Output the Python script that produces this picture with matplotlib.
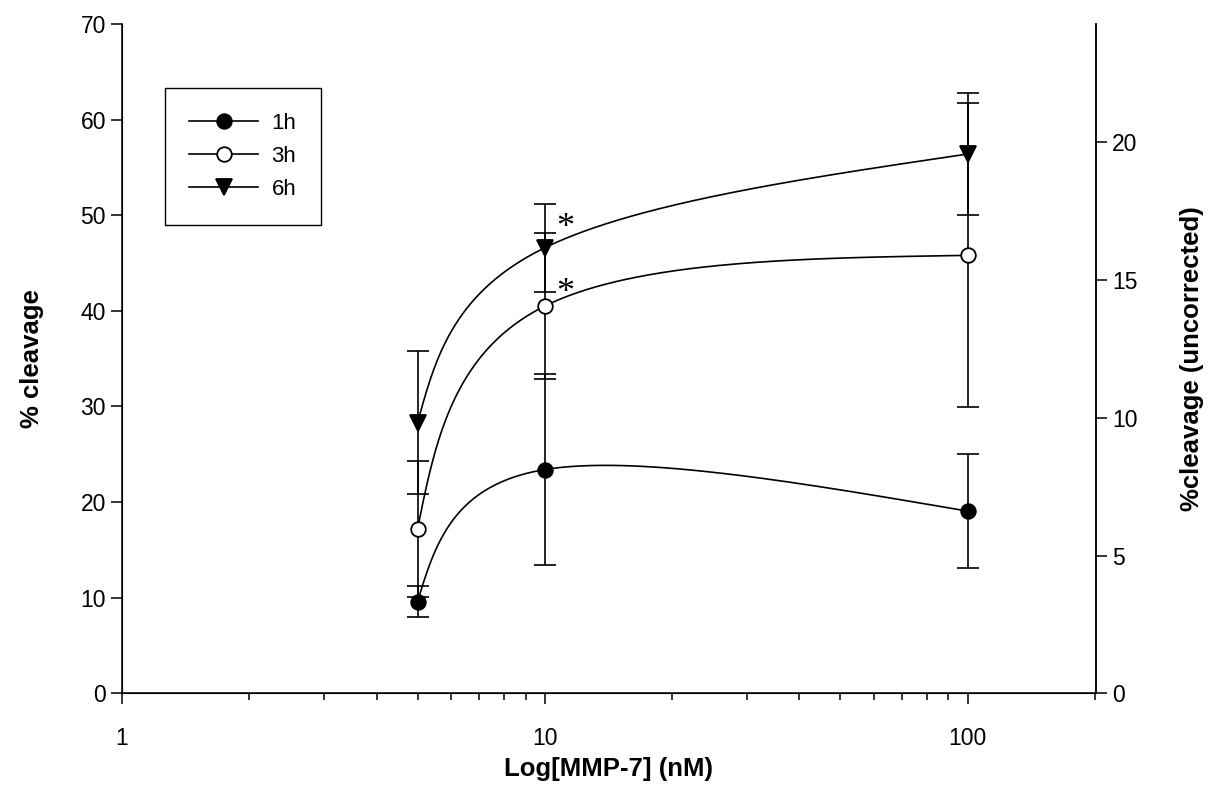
import numpy as np
import matplotlib.pyplot as plt
from matplotlib.lines import Line2D

plt.rcParams['font.family'] = ['Liberation Sans', 'DejaVu Sans']

# dados
conc = [5, 10, 100]
y_1h = [9.6, 23.4, 19.05]
err_1h = [1.65, 9.95, 5.95]
y_3h = [17.2, 40.5, 45.8]
err_3h = [7.1, 7.6, 15.9]
y_6h = [28.3, 46.6, 56.4]
err_6h = [7.5, 4.6, 6.4]
rotulos = ['1h', '3h', '6h']
# asteriscos de significancia (6h e 3h em 10 nM)
star_x = [11.2, 11.2]
star_y = [48.6, 41.8]

dir_max = 24.3  # topo do eixo direito


def curva(x, y, n=150):
    # spline cubica parametrica natural em (log x, y)
    p = np.column_stack([np.log10(x), y])
    d0 = p[1] - p[0]
    d1 = p[2] - p[1]
    m1 = (d0 + d1) / 2
    m0 = (3 * d0 - m1) / 2
    m2 = (3 * d1 - m1) / 2
    s = np.linspace(0, 1, n)[:, None]
    h00 = 2 * s**3 - 3 * s**2 + 1
    h10 = s**3 - 2 * s**2 + s
    h01 = -2 * s**3 + 3 * s**2
    h11 = s**3 - s**2
    seg1 = h00 * p[0] + h10 * m0 + h01 * p[1] + h11 * m1
    seg2 = h00 * p[1] + h10 * m1 + h01 * p[2] + h11 * m2
    pts = np.vstack([seg1, seg2[1:]])
    return 10 ** pts[:, 0], pts[:, 1]


fig = plt.figure(figsize=(12.09, 8.07), dpi=100)
ax = fig.add_axes([0.1009, 0.1409, 0.8056, 0.8294])

lw = 1.2
series = [(y_1h, err_1h, 'o', 'black', 'black'),
          (y_3h, err_3h, 'o', 'white', 'black'),
          (y_6h, err_6h, 'v', 'black', 'black')]
zorders = [6, 4, 5]
handles = []
for (ys, es, mk, fc, ec), lab, zo in zip(series, rotulos, zorders):
    cx, cy = curva(conc, ys)
    ax.plot(cx, cy, color='black', lw=lw, zorder=zo - 1)
    ax.errorbar(conc, ys, yerr=es, fmt='none', ecolor='black', elinewidth=lw,
                capsize=7.8, capthick=lw, zorder=zo - 1)
    ms = 11 if mk == 'v' else 10.5
    ax.plot(conc, ys, linestyle='none', marker=mk, ms=ms, mfc=fc, mec=ec,
            mew=1.3, zorder=zo)
    handles.append(Line2D([], [], color='black', lw=lw, marker=mk, ms=ms,
                          mfc=fc, mec=ec, mew=1.3, label=lab))

for sx, sy in zip(star_x, star_y):
    ax.text(sx, sy, '*', fontsize=26, family=['Liberation Serif', 'DejaVu Serif'],
            ha='center', va='center')

ax.set_xscale('log')
ax.set_xlim(1, 201)
ax.set_ylim(0, 70)
ax.set_xticks([1, 10, 100])
ax.set_xticklabels(['1', '10', '100'])
ax.set_yticks(np.arange(0, 71, 10))
ax.tick_params(axis='both', which='major', labelsize=16.5, length=8, width=1.1,
               direction='out')
ax.tick_params(axis='x', which='minor', length=5, width=1.1, direction='out')
ax.tick_params(axis='x', which='major', pad=16)
ax.spines['top'].set_visible(False)
for sp in ['left', 'bottom', 'right']:
    ax.spines[sp].set_linewidth(1.1)

ax.set_xlabel('Log[MMP-7] (nM)', fontsize=18.5, fontweight='bold', labelpad=5)
ax.set_ylabel('% cleavage', fontsize=18.5, fontweight='bold', labelpad=26)

ax2 = ax.twinx()
ax2.set_ylim(0, dir_max)
ax2.set_yticks([0, 5, 10, 15, 20])
ax2.tick_params(axis='y', labelsize=16.5, length=8, width=1.1, direction='out')
ax2.spines['top'].set_visible(False)
ax2.spines['right'].set_linewidth(1.1)
ax2.set_ylabel('%cleavage (uncorrected)', fontsize=18.5, fontweight='bold',
               labelpad=31)

leg = ax.legend(handles=handles, loc='upper left', bbox_to_anchor=(0.0441, 0.904),
                borderaxespad=0, fontsize=16, handlelength=3.1, handletextpad=0.6,
                labelspacing=0.55, borderpad=1.1, fancybox=False, framealpha=1,
                edgecolor='black')
leg.get_frame().set_linewidth(1.0)

plt.savefig('out.png', dpi=100)
